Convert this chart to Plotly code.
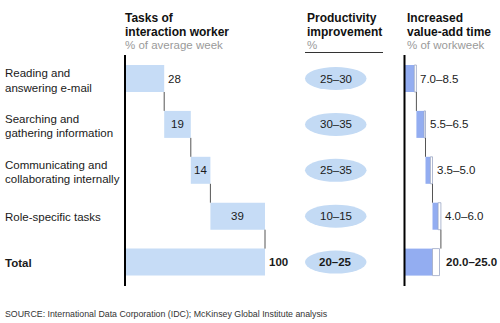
import plotly.graph_objects as go

# ---------------- data ----------------
tasks = ["Reading and<br>answering e-mail", "Searching and<br>gathering information",
         "Communicating and<br>collaborating internally", "Role-specific tasks", "Total"]
task_share = [28, 19, 14, 39, 100]            # % of average week
productivity = ["25\u201330", "30\u201335", "25\u201335", "10\u201315", "20\u201325"]
gain_min = [7.0, 5.5, 3.5, 4.0, 20.0]          # % of workweek
gain_max = [8.5, 6.5, 5.0, 6.0, 25.0]
gain_labels = ["7.0\u20138.5", "5.5\u20136.5", "3.5\u20135.0", "4.0\u20136.0", "20.0\u201325.0"]

W, H = 500, 323
FONT = "Liberation Sans, Arial, sans-serif"
LIGHT = "#c6dcf6"
MID = "#93adf1"

def px_x(p):
    return p / W

def px_y(p):
    return 1 - p / H

# row geometry (y axis in row units, reversed)
ROW0, ROWSTEP = 78.5, 45.9
BAR_W = 27 / ROWSTEP
y_range = [(H - ROW0) / ROWSTEP, -ROW0 / ROWSTEP]

# x scales: 1.4 px per unit
SC = 1.4
X0_LEFT, X0_RIGHT = 125, 404.5
x1_range = [-X0_LEFT / SC, (W - X0_LEFT) / SC]
x2_range = [-X0_RIGHT / SC, (W - X0_RIGHT) / SC]

rows = list(range(len(tasks)))
n = len(tasks)

# left waterfall bases
left_base = []
acc = 0
for i in range(n - 1):
    left_base.append(acc)
    acc += task_share[i]
left_base.append(0)

# right waterfall bases (chained on max values)
right_base = []
acc = 0
for i in range(n - 1):
    right_base.append(acc)
    acc += gain_max[i]
right_base.append(0)

fig = go.Figure()

fig.add_trace(go.Bar(orientation="h", y=rows, x=task_share, base=left_base, width=BAR_W,
                     marker=dict(color=LIGHT, line=dict(width=0)), xaxis="x", yaxis="y",
                     hoverinfo="skip"))

fig.add_trace(go.Bar(orientation="h", y=rows, x=gain_min, base=right_base, width=BAR_W,
                     marker=dict(color=MID, line=dict(width=0)), xaxis="x2", yaxis="y",
                     hoverinfo="skip"))
fig.add_trace(go.Bar(orientation="h", y=rows,
                     x=[mx - mn for mn, mx in zip(gain_min, gain_max)],
                     base=[b + mn for b, mn in zip(right_base, gain_min)], width=BAR_W,
                     marker=dict(color="white", line=dict(width=0.8, color="#9aa6c4")),
                     xaxis="x2", yaxis="y", hoverinfo="skip"))

# connectors
h2 = BAR_W / 2
cx, cy = [], []
for i in range(n - 1):
    e = left_base[i] + task_share[i]
    cx += [e, e, None]
    cy += [i + h2, i + 1 - h2, None]
fig.add_trace(go.Scatter(x=cx, y=cy, mode="lines", line=dict(color="#555", width=1),
                         xaxis="x", yaxis="y", hoverinfo="skip"))
cx, cy = [], []
for i in range(n - 1):
    e = right_base[i] + gain_max[i]
    cx += [e, e, None]
    cy += [i + h2, i + 1 - h2, None]
fig.add_trace(go.Scatter(x=cx, y=cy, mode="lines", line=dict(color="#555", width=1),
                         xaxis="x2", yaxis="y", hoverinfo="skip"))

# axis lines (value zero)
ytop = (55 - ROW0) / ROWSTEP
ybot = (286 - ROW0) / ROWSTEP
fig.add_trace(go.Scatter(x=[0, 0], y=[ytop, ybot], mode="lines", line=dict(color="black", width=2),
                         xaxis="x", yaxis="y", hoverinfo="skip"))
fig.add_trace(go.Scatter(x=[0, 0], y=[ytop, ybot], mode="lines", line=dict(color="black", width=2),
                         xaxis="x2", yaxis="y", hoverinfo="skip"))

ann = []
shapes = []

def text(x, y, t, size=11.5, color="#1a1a1a", bold=False, xanchor="left", xref="paper", yref="paper",
         xshift=0):
    if bold:
        t = "<b>" + t + "</b>"
    ann.append(dict(x=x, y=y, xref=xref, yref=yref, text=t, showarrow=False, xanchor=xanchor,
                    yanchor="middle", xshift=xshift, align="left",
                    font=dict(family=FONT, size=size, color=color)))

# headers
for xp, lines in [(123, ["Tasks of", "interaction worker", "% of average week"]),
                  (305, ["Productivity", "improvement", "%"]),
                  (405, ["Increased", "value-add time", "% of workweek"])]:
    text(px_x(xp), px_y(18), lines[0], size=12, bold=True, color="#111")
    text(px_x(xp), px_y(32), lines[1], size=12, bold=True, color="#111")
    text(px_x(xp), px_y(45.5), lines[2], size=11.5, color="#9a9a9a")

shapes.append(dict(type="line", xref="paper", yref="paper", x0=px_x(305), x1=px_x(383),
                   y0=px_y(52.5), y1=px_y(52.5), line=dict(color="#333", width=1)))

# row labels
for i, t in enumerate(tasks):
    parts = t.split("<br>")
    cy_px = ROW0 + i * ROWSTEP
    if len(parts) == 2:
        text(px_x(3), px_y(cy_px - 5.5), parts[0])
        text(px_x(3), px_y(cy_px + 9), parts[1])
    else:
        text(px_x(3), px_y(cy_px + 1), parts[0], bold=(i == n - 1), size=11.5)

# left values
for i in range(n):
    if i == 0:
        text(left_base[i] + task_share[i], i, str(task_share[i]), xref="x", yref="y", xshift=2)
    elif i == n - 1:
        text(left_base[i] + task_share[i], i, str(task_share[i]), xref="x", yref="y", xshift=2, bold=True)
    else:
        text(left_base[i] + task_share[i] / 2, i, str(task_share[i]), xref="x", yref="y", xanchor="center")

# productivity ellipses
for i in range(n):
    shapes.append(dict(type="circle", xref="paper", yref="y", x0=px_x(305), x1=px_x(366.5),
                       y0=i - 11.5 / ROWSTEP, y1=i + 11.5 / ROWSTEP,
                       fillcolor="#c3daf4", line=dict(width=0), layer="below"))
    text(px_x(335.8), i, productivity[i], xref="paper", yref="y", xanchor="center", bold=(i == n - 1))

# right labels
for i in range(n):
    text(right_base[i] + gain_max[i], i, gain_labels[i], xref="x2", yref="y",
         xshift=2 if i < n - 1 else 4, bold=(i == n - 1))

# source
text(px_x(3), px_y(314), "SOURCE: International Data Corporation (IDC); McKinsey Global Institute analysis",
     size=8.8, color="#333")

fig.update_layout(
    width=W, height=H, margin=dict(l=0, r=0, t=0, b=0),
    paper_bgcolor="white", plot_bgcolor="white", showlegend=False, barmode="overlay",
    xaxis=dict(domain=[0, 1], range=x1_range, visible=False, fixedrange=True),
    xaxis2=dict(range=x2_range, overlaying="x", visible=False, fixedrange=True),
    yaxis=dict(domain=[0, 1], range=y_range, visible=False, fixedrange=True),
    annotations=ann, shapes=shapes,
)

fig.write_html("out.html")
